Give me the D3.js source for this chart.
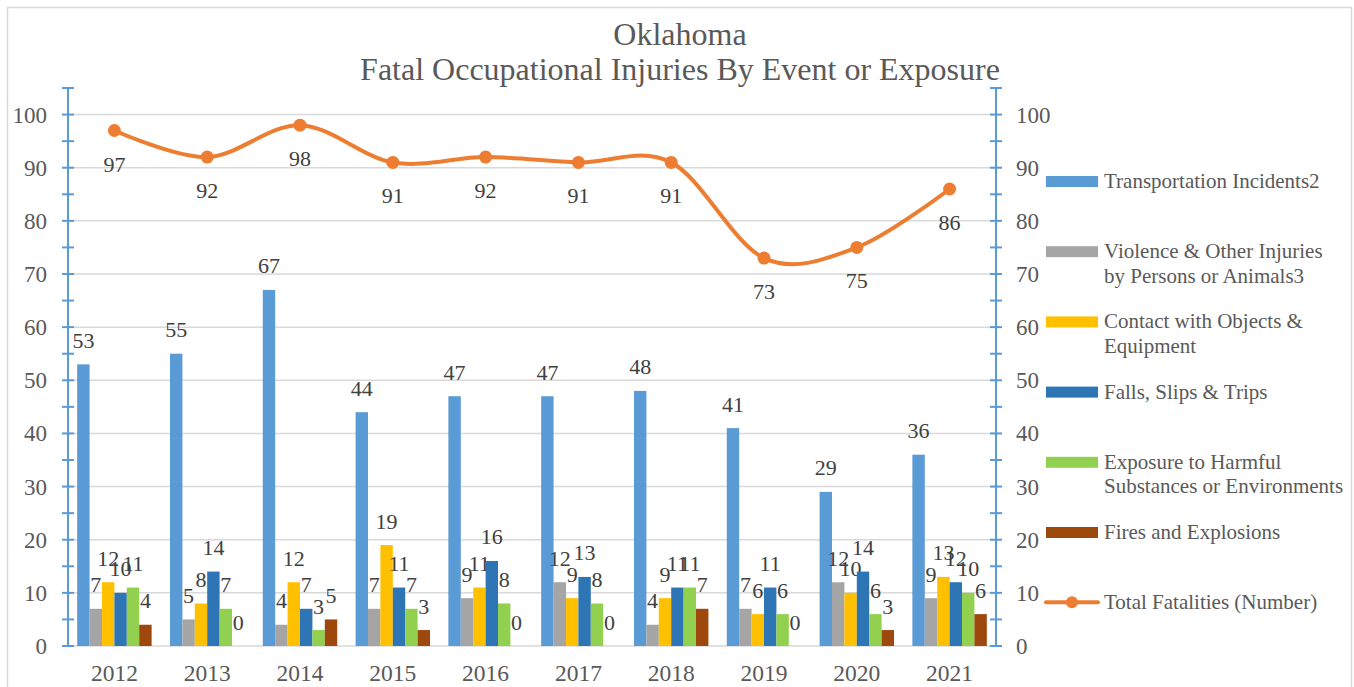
<!DOCTYPE html>
<html>
<head>
<meta charset="utf-8">
<script src="https://cdn.jsdelivr.net/npm/d3@7"></script>
<style>
  body { margin: 0; background: #fff; }
</style>
</head>
<body>
<svg id="svg_elem"></svg>
<script>
//define constants
const svgWidth = 1354;
const svgHeight = 687;
const plotLeft = 68;
const plotRight = 996;
const plotTop = 88;
const plotBottom = 646;
const fontFamily = "'Liberation Serif', 'Times New Roman', Tinos, serif";

//define data
const years = ['2012','2013','2014','2015','2016','2017','2018','2019','2020','2021'];
const transportation = [53,55,67,44,47,47,48,41,29,36];
const violence = [7,5,4,7,9,12,4,7,12,9];
const contact = [12,8,12,19,11,9,9,6,10,13];
const falls = [10,14,7,11,16,13,11,11,14,12];
const exposure = [11,7,3,7,8,8,11,6,6,10];
const fires = [4,0,5,3,0,0,7,0,3,6];
const totals = [97,92,98,91,92,91,91,73,75,86];
const yTicks = [0,10,20,30,40,50,60,70,80,90,100];

const barSeries = [
	{name: 'Transportation Incidents2', lines: ['Transportation Incidents2'], values: transportation, color: '#5B9BD5'},
	{name: 'Violence & Other Injuries by Persons or Animals3', lines: ['Violence & Other Injuries', 'by Persons or Animals3'], values: violence, color: '#A5A5A5'},
	{name: 'Contact with Objects & Equipment', lines: ['Contact with Objects &', 'Equipment'], values: contact, color: '#FFC000'},
	{name: 'Falls, Slips & Trips', lines: ['Falls, Slips & Trips'], values: falls, color: '#2E75B6'},
	{name: 'Exposure to Harmful Substances or Environments', lines: ['Exposure to Harmful', 'Substances or Environments'], values: exposure, color: '#92D050'},
	{name: 'Fires and Explosions', lines: ['Fires and Explosions'], values: fires, color: '#9E480E'}
];
const lineColor = '#ED7D31';

//configure svg window
var svg = d3.select('#svg_elem')
	.attr('width', svgWidth)
	.attr('height', svgHeight)
	.style('font-family', fontFamily);

//outer border
svg.append('rect')
	.attr('x', 7.5).attr('y', 7.5)
	.attr('width', 1344).attr('height', 690)
	.attr('fill', '#fff')
	.attr('stroke', '#D9D9D9')
	.attr('stroke-width', 1.5);

//scales
var xScale = d3.scaleBand()
	.domain(years)
	.range([plotLeft, plotRight])
	.padding(0);

var xInner = d3.scaleBand()
	.domain(barSeries.map(s => s.name))
	.range([0, xScale.bandwidth()])
	.paddingInner(0)
	.paddingOuter(0.74);

var yScale = d3.scaleLinear()
	.domain([0, 105])
	.range([plotBottom, plotTop]);

//gridlines
svg.append('g')
	.selectAll('line')
	.data(yTicks)
	.enter()
	.append('line')
		.attr('x1', plotLeft)
		.attr('x2', plotRight)
		.attr('y1', d => yScale(d))
		.attr('y2', d => yScale(d))
		.attr('stroke', '#D9D9D9')
		.attr('stroke-width', 1.5);

//title
svg.append('text')
	.text('Oklahoma')
	.attr('x', 680).attr('y', 45)
	.attr('text-anchor', 'middle')
	.style('font-size', '32px')
	.attr('fill', '#595959');
svg.append('text')
	.text('Fatal Occupational Injuries By Event or Exposure')
	.attr('x', 680).attr('y', 80)
	.attr('text-anchor', 'middle')
	.style('font-size', '32px')
	.attr('fill', '#595959');

//bars
var groups = svg.selectAll('.bar-group')
	.data(barSeries)
	.enter()
	.append('g')
		.classed('bar-group', true);

groups.selectAll('rect')
	.data(s => s.values.map((v, i) => ({v: v, year: years[i], s: s})))
	.enter()
	.append('rect')
		.attr('x', d => xScale(d.year) + xInner(d.s.name))
		.attr('y', d => yScale(d.v))
		.attr('width', xInner.bandwidth())
		.attr('height', d => plotBottom - yScale(d.v))
		.attr('fill', d => d.s.color);

groups.selectAll('text')
	.data(s => s.values.map((v, i) => ({v: v, year: years[i], s: s})))
	.enter()
	.append('text')
		.text(d => d.v)
		.attr('x', d => xScale(d.year) + xInner(d.s.name) + xInner.bandwidth() / 2)
		.attr('y', d => yScale(d.v) - 16.5)
		.attr('text-anchor', 'middle')
		.style('font-size', '22px')
		.attr('fill', '#404040');

//axes
function drawAxis(x, labelSide) {
	var g = svg.append('g');
	var axisColor = '#5B9BD5';
	g.append('line')
		.attr('x1', x).attr('x2', x)
		.attr('y1', yScale(105)).attr('y2', plotBottom)
		.attr('stroke', axisColor)
		.attr('stroke-width', 2);
	var minor = d3.range(0, 106, 5);
	g.selectAll('.tick')
		.data(minor)
		.enter()
		.append('line')
			.attr('x1', x - 6).attr('x2', x + 6)
			.attr('y1', d => yScale(d)).attr('y2', d => yScale(d))
			.attr('stroke', axisColor)
			.attr('stroke-width', 2);
	g.selectAll('.lbl')
		.data(yTicks)
		.enter()
		.append('text')
			.text(d => d)
			.attr('x', labelSide === 'left' ? x - 21 : x + 20)
			.attr('y', d => yScale(d) + 8)
			.attr('text-anchor', labelSide === 'left' ? 'end' : 'start')
			.style('font-size', '23px')
			.attr('fill', '#595959');
}
drawAxis(plotLeft, 'left');
drawAxis(plotRight, 'right');

//x axis labels
svg.append('g')
	.selectAll('text')
	.data(years)
	.enter()
	.append('text')
		.text(d => d)
		.attr('x', d => xScale(d) + xScale.bandwidth() / 2)
		.attr('y', 681)
		.attr('text-anchor', 'middle')
		.style('font-size', '23.5px')
		.attr('fill', '#595959');

//total line
var totalData = totals.map((v, i) => ({v: v, year: years[i]}));
var line = d3.line()
	.x(d => xScale(d.year) + xScale.bandwidth() / 2)
	.y(d => yScale(d.v))
	.curve(d3.curveCardinal.tension(0));

svg.append('path')
	.datum(totalData)
	.attr('d', line)
	.attr('fill', 'none')
	.attr('stroke', lineColor)
	.attr('stroke-width', 4)
	.attr('stroke-linecap', 'round');

svg.append('g')
	.selectAll('circle')
	.data(totalData)
	.enter()
	.append('circle')
		.attr('cx', d => xScale(d.year) + xScale.bandwidth() / 2)
		.attr('cy', d => yScale(d.v))
		.attr('r', 6.5)
		.attr('fill', lineColor);

svg.append('g')
	.selectAll('text')
	.data(totalData)
	.enter()
	.append('text')
		.text(d => d.v)
		.attr('x', d => xScale(d.year) + xScale.bandwidth() / 2)
		.attr('y', d => yScale(d.v) + 41)
		.attr('text-anchor', 'middle')
		.style('font-size', '22px')
		.attr('fill', '#404040');

//legend
var legend = svg.append('g');
var legendY = 181;
var legendStep = 70.2;
barSeries.forEach((s, i) => {
	var y = legendY + i * legendStep;
	legend.append('rect')
		.attr('x', 1046).attr('y', y - 5)
		.attr('width', 52).attr('height', 11)
		.attr('fill', s.color);
	s.lines.forEach((t, j) => {
		legend.append('text')
			.text(t)
			.attr('x', 1104)
			.attr('y', y + 7 + j * 24.5)
			.style('font-size', '21px')
			.attr('fill', '#595959');
	});
});
var ly = legendY + 6 * legendStep;
legend.append('line')
	.attr('x1', 1046).attr('x2', 1098)
	.attr('y1', ly).attr('y2', ly)
	.attr('stroke', lineColor)
	.attr('stroke-width', 4)
	.attr('stroke-linecap', 'round');
legend.append('circle')
	.attr('cx', 1072).attr('cy', ly)
	.attr('r', 6)
	.attr('fill', lineColor);
legend.append('text')
	.text('Total Fatalities (Number)')
	.attr('x', 1104)
	.attr('y', ly + 7)
	.style('font-size', '21px')
	.attr('fill', '#595959');
</script>
</body>
</html>
